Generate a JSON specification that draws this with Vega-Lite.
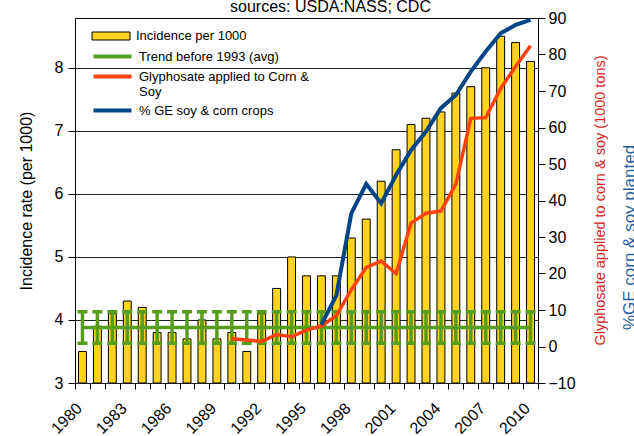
{
  "$schema": "https://vega.github.io/schema/vega-lite/v6.json",
  "width": 463,
  "height": 365,
  "autosize": "none",
  "padding": {"left": 75, "top": 18, "right": 96, "bottom": 53},
  "config": {
    "font": "Liberation Sans",
    "view": {"stroke": "#000", "strokeWidth": 1},
    "axis": {"labelColor": "#000", "titleColor": "#000", "titleFontWeight": "normal", "tickColor": "#000", "labelFontSize": 16, "titleFontSize": 16},
    "legend": {"labelFontSize": 13, "labelColor": "#000", "labelLimit": 400, "rowPadding": 0, "symbolSize": 361, "labelOffset": 15}
  },
  "title": {"text": "sources: USDA:NASS; CDC", "fontSize": 16, "fontWeight": "normal", "color": "#000", "offset": -18, "baseline": "alphabetic", "dx": 24},
  "data": {
    "values": [
      {"year": 1980, "inc": 3.5, "trend": 3.88, "lo": 3.63, "hi": 4.13, "gly": null, "ge": null},
      {"year": 1981, "inc": 3.9, "trend": 3.88, "lo": 3.63, "hi": 4.13, "gly": null, "ge": null},
      {"year": 1982, "inc": 4.1, "trend": 3.88, "lo": 3.63, "hi": 4.13, "gly": null, "ge": null},
      {"year": 1983, "inc": 4.3, "trend": 3.88, "lo": 3.63, "hi": 4.13, "gly": null, "ge": null},
      {"year": 1984, "inc": 4.2, "trend": 3.88, "lo": 3.63, "hi": 4.13, "gly": null, "ge": null},
      {"year": 1985, "inc": 3.8, "trend": 3.88, "lo": 3.63, "hi": 4.13, "gly": null, "ge": null},
      {"year": 1986, "inc": 3.8, "trend": 3.88, "lo": 3.63, "hi": 4.13, "gly": null, "ge": null},
      {"year": 1987, "inc": 3.7, "trend": 3.88, "lo": 3.63, "hi": 4.13, "gly": null, "ge": null},
      {"year": 1988, "inc": 4.0, "trend": 3.88, "lo": 3.63, "hi": 4.13, "gly": null, "ge": null},
      {"year": 1989, "inc": 3.7, "trend": 3.88, "lo": 3.63, "hi": 4.13, "gly": null, "ge": null},
      {"year": 1990, "inc": 3.8, "trend": 3.88, "lo": 3.63, "hi": 4.13, "gly": 2.1, "ge": null},
      {"year": 1991, "inc": 3.5, "trend": 3.88, "lo": 3.63, "hi": 4.13, "gly": 1.8, "ge": null},
      {"year": 1992, "inc": 4.1, "trend": 3.88, "lo": 3.63, "hi": 4.13, "gly": 1.4, "ge": null},
      {"year": 1993, "inc": 4.5, "trend": 3.88, "lo": 3.63, "hi": 4.13, "gly": 3.3, "ge": null},
      {"year": 1994, "inc": 5.0, "trend": 3.88, "lo": 3.63, "hi": 4.13, "gly": 2.7, "ge": null},
      {"year": 1995, "inc": 4.7, "trend": 3.88, "lo": 3.63, "hi": 4.13, "gly": 4.5, "ge": null},
      {"year": 1996, "inc": 4.7, "trend": 3.88, "lo": 3.63, "hi": 4.13, "gly": 5.6, "ge": 6.0},
      {"year": 1997, "inc": 4.7, "trend": 3.88, "lo": 3.63, "hi": 4.13, "gly": 8.5, "ge": 14.0},
      {"year": 1998, "inc": 5.3, "trend": 3.88, "lo": 3.63, "hi": 4.13, "gly": 15.5, "ge": 36.5},
      {"year": 1999, "inc": 5.6, "trend": 3.88, "lo": 3.63, "hi": 4.13, "gly": 21.7, "ge": 44.5},
      {"year": 2000, "inc": 6.2, "trend": 3.88, "lo": 3.63, "hi": 4.13, "gly": 23.4, "ge": 39.2},
      {"year": 2001, "inc": 6.7, "trend": 3.88, "lo": 3.63, "hi": 4.13, "gly": 20.0, "ge": 47.0},
      {"year": 2002, "inc": 7.1, "trend": 3.88, "lo": 3.63, "hi": 4.13, "gly": 33.8, "ge": 53.8},
      {"year": 2003, "inc": 7.2, "trend": 3.88, "lo": 3.63, "hi": 4.13, "gly": 36.5, "ge": 58.9},
      {"year": 2004, "inc": 7.3, "trend": 3.88, "lo": 3.63, "hi": 4.13, "gly": 37.1, "ge": 65.3},
      {"year": 2005, "inc": 7.6, "trend": 3.88, "lo": 3.63, "hi": 4.13, "gly": 44.5, "ge": 68.9},
      {"year": 2006, "inc": 7.7, "trend": 3.88, "lo": 3.63, "hi": 4.13, "gly": 62.5, "ge": 75.3},
      {"year": 2007, "inc": 8.0, "trend": 3.88, "lo": 3.63, "hi": 4.13, "gly": 62.7, "ge": 80.8},
      {"year": 2008, "inc": 8.5, "trend": 3.88, "lo": 3.63, "hi": 4.13, "gly": 70.7, "ge": 85.8},
      {"year": 2009, "inc": 8.4, "trend": 3.88, "lo": 3.63, "hi": 4.13, "gly": 76.7, "ge": 88.1},
      {"year": 2010, "inc": 8.1, "trend": 3.88, "lo": 3.63, "hi": 4.13, "gly": 82.4, "ge": 89.5}
    ]
  },
  "layer": [
    {
      "layer": [
        {
          "mark": {"type": "bar", "stroke": "#000", "strokeWidth": 1, "width": {"band": 0.53}},
          "encoding": {
            "x": {
              "field": "year", "type": "ordinal",
              "scale": {"type": "band", "paddingInner": 0, "paddingOuter": 0},
              "axis": {"title": null, "labelAngle": -45, "labelAlign": "right", "labelBaseline": "alphabetic", "labelExpr": "(datum.value - 1980) % 3 == 0 ? datum.value : ''", "labelOverlap": false, "tickBand": "extent", "tickSize": 6, "domain": false, "grid": false, "labelPadding": 20}
            },
            "y": {
              "field": "inc", "type": "quantitative",
              "scale": {"domain": [3, 8.79], "nice": false, "zero": false},
              "axis": {"orient": "left", "title": "Incidence rate (per 1000)", "format": "d", "values": [3, 4, 5, 6, 7, 8], "grid": true, "gridColor": "#222", "gridWidth": 1, "gridOpacity": 1, "domain": false, "tickSize": 7, "labelPadding": 5, "titlePadding": 20}
            },
            "y2": {"datum": 3},
            "fill": {
              "datum": "Incidence per 1000",
              "scale": {"domain": ["Incidence per 1000"], "range": ["#ffd320"]},
              "legend": {
                "orient": "none", "legendX": 26, "legendY": 8, "title": null,
                "symbolType": "M-2,-0.42H2V0.42H-2Z", "symbolStrokeColor": "#000", "symbolStrokeWidth": 1, "symbolFillColor": "#ffd320", "symbolOpacity": 1
              }
            }
          }
        },
        {
          "mark": {"type": "rule", "strokeWidth": 3.5, "color": "#579d1c"},
          "encoding": {
            "x": {"field": "year", "type": "ordinal"},
            "y": {"field": "lo", "type": "quantitative"},
            "y2": {"field": "hi"}
          }
        },
        {
          "mark": {"type": "tick", "thickness": 3.5, "size": 10, "opacity": 1, "color": "#579d1c"},
          "encoding": {
            "x": {"field": "year", "type": "ordinal"},
            "y": {"field": "lo", "type": "quantitative"}
          }
        },
        {
          "mark": {"type": "tick", "thickness": 3.5, "size": 10, "opacity": 1, "color": "#579d1c"},
          "encoding": {
            "x": {"field": "year", "type": "ordinal"},
            "y": {"field": "hi", "type": "quantitative"}
          }
        },
        {
          "mark": {"type": "line", "strokeWidth": 3.5},
          "encoding": {
            "x": {"field": "year", "type": "ordinal"},
            "y": {"field": "trend", "type": "quantitative"},
            "stroke": {
              "datum": "Trend before 1993 (avg)",
              "scale": {
                "domain": ["Trend before 1993 (avg)", "Glyphosate applied to Corn & Soy", "% GE soy & corn crops"],
                "range": ["#579d1c", "#ff420e", "#004586"]
              },
              "legend": {
                "orient": "none", "legendX": 26, "legendY": 27, "title": null,
                "symbolType": "M-2,0H2", "symbolStrokeWidth": 4, "symbolOpacity": 1,
                "labelExpr": "datum.label == 'Glyphosate applied to Corn & Soy' ? ['Glyphosate applied to Corn &', 'Soy'] : datum.label"
              }
            }
          }
        }
      ]
    },
    {
      "mark": {"type": "line", "strokeWidth": 3.5},
      "encoding": {
        "x": {"field": "year", "type": "ordinal"},
        "y": {
          "field": "gly", "type": "quantitative",
          "scale": {"domain": [-10, 90], "nice": false, "zero": false},
          "axis": {"orient": "right", "values": [-10, 0, 10, 20, 30, 40, 50, 60, 70, 80, 90], "grid": false, "domain": false, "tickSize": 7, "labelPadding": 3,
            "title": "Glyphosate applied to corn & soy (1000 tons)", "titleColor": "#d9261c", "titleFontSize": 14.5, "titleAngle": 270, "titleX": 62, "titleY": 182, "titleAlign": "center", "titleBaseline": "middle"}
        },
        "stroke": {"datum": "Glyphosate applied to Corn & Soy", "legend": null}
      }
    },
    {
      "mark": {"type": "line", "strokeWidth": 4},
      "encoding": {
        "x": {"field": "year", "type": "ordinal"},
        "y": {
          "field": "ge", "type": "quantitative",
          "scale": {"domain": [-10, 90], "nice": false, "zero": false},
          "axis": {"orient": "right", "labels": false, "ticks": false, "grid": false, "domain": false,
            "title": "%GE corn & soy planted", "titleColor": "#2a5f9e", "titleFontSize": 17, "titleAngle": 270, "titleX": 91, "titleY": 219, "titleAlign": "center", "titleBaseline": "middle"}
        },
        "stroke": {"datum": "% GE soy & corn crops", "legend": null}
      }
    }
  ],
  "resolve": {"scale": {"y": "independent"}, "axis": {"y": "independent"}}
}
